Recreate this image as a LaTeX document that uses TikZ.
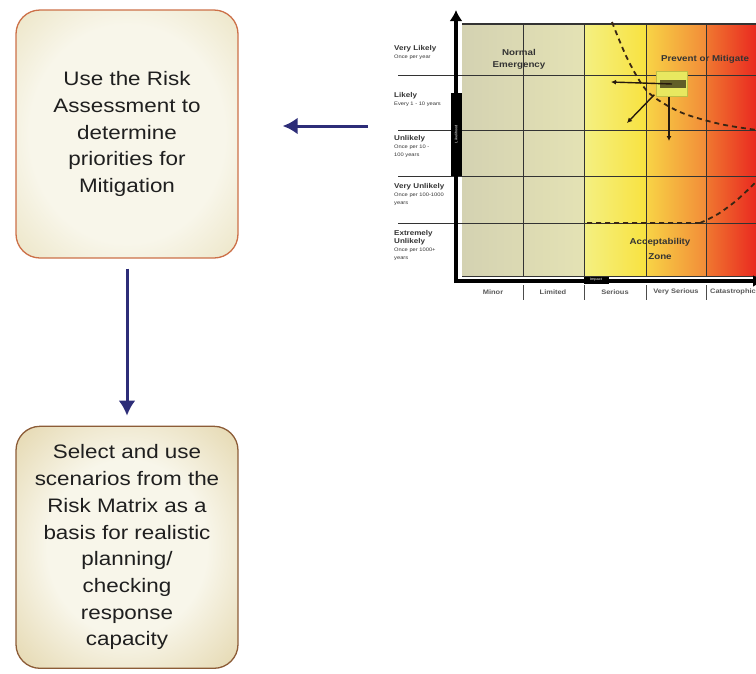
\documentclass[tikz,border=0pt]{standalone}
\usepackage{fontspec}
\setmainfont{Liberation Sans}[FakeStretch=1.15]
\usepackage{xcolor}
\usepackage{tikz}
\usetikzlibrary{arrows.meta,positioning,calc}
\definecolor{navy}{RGB}{45,45,120}
\definecolor{boxin}{RGB}{248,246,234}
\definecolor{boxmid}{RGB}{234,226,192}
\definecolor{boxout}{RGB}{220,200,156}
\definecolor{tanmid}{RGB}{230,218,180}
\definecolor{tanout}{RGB}{212,188,140}
\definecolor{edgeA}{RGB}{204,112,72}
\definecolor{edgeB}{RGB}{140,92,55}
\pgfdeclareradialshading{boxglow}{\pgfpoint{0bp}{0bp}}{color(0bp)=(boxin); color(22bp)=(boxin); color(38bp)=(boxmid); color(48bp)=(boxout); color(70bp)=(boxout)}
\pgfdeclareradialshading{tanglow}{\pgfpoint{0bp}{0bp}}{color(0bp)=(boxin); color(18bp)=(boxin); color(34bp)=(tanmid); color(47bp)=(tanout); color(70bp)=(tanout)}
\newcommand{\subl}[1]{{\fontsize{5}{6}\selectfont\mdseries #1}}

\begin{document}
\begin{tikzpicture}[>=Latex, x=1pt, y=-1pt,
  taskbox/.style={rounded corners=24pt, line width=1.3pt, minimum width=222pt,
    align=center, font=\fontsize{19.5}{26.7}\selectfont, text=black!88, shade},
  flow/.style={-{Latex[length=15pt,width=17pt]}, line width=3pt, navy},
  rowlab/.style={anchor=north west, align=left, inner sep=0pt,
    font=\fontsize{7}{8}\selectfont\bfseries, text=black!80},
  collab/.style={font=\fontsize{6.5}{7}\selectfont\bfseries, text=black!65},
  zonelab/.style={align=center, font=\fontsize{8.5}{12}\selectfont\bfseries, text=black!80},
  grid line/.style={black!80, line width=1pt},
  edge curve/.style={dashed, dash pattern=on 5pt off 4pt, line width=1.8pt, black!70!brown},
  evtarrow/.style={-{Latex[length=5pt,width=5pt]}, line width=1.4pt, black!80!brown}]
\useasboundingbox (0,0) rectangle (756,673);

% flow boxes
\node[taskbox, shading=boxglow, draw=edgeA, minimum height=248pt] (assess) at (127,134)
  {Use the Risk\\Assessment to\\determine\\priorities for\\Mitigation};
\node[taskbox, shading=tanglow, draw=edgeB, minimum height=242pt, below=167pt of assess] (scenario)
  {Select and use\\scenarios from the\\Risk Matrix as a\\basis for realistic\\planning/\\checking\\response\\capacity};

% risk matrix
\shade[left color={rgb,255:red,212;green,210;blue,178}, right color={rgb,255:red,228;green,226;blue,180}] (462,24) rectangle (584,276);
\shade[left color={rgb,255:red,244;green,240;blue,130}, right color={rgb,255:red,248;green,226;blue,64}] (584,24) rectangle (646,276);
\shade[left color={rgb,255:red,248;green,212;blue,70}, right color={rgb,255:red,242;green,140;blue,56}] (646,24) rectangle (706,276);
\shade[left color={rgb,255:red,240;green,120;blue,48}, right color={rgb,255:red,233;green,40;blue,32}] (706,24) rectangle (757,276);

\foreach \y in {75,130,176,223}
  \draw[grid line] (398,\y) -- (757,\y);
\foreach \x in {523,584,646,706}
  \draw[grid line] (\x,24) -- (\x,276);
\draw[black!80, line width=2pt] (462,24) -- (757,24);
\draw[grid line] (462,276) -- (757,276);

\draw[edge curve] plot[smooth] coordinates {(612,22) (628,60) (648,92) (680,112) (720,124) (757,130)};
\draw[edge curve] (587,223) -- (700,223) plot[smooth] coordinates {(700,223) (718,214) (737,200) (757,181)};

\node[fill={rgb,255:red,232;green,232;blue,96}, draw={rgb,255:red,190;green,190;blue,70},
  minimum width=31pt, minimum height=25pt, inner sep=0pt] (evt) at (672,84) {};
\fill[black!40!olive] (660,80) rectangle (686,88);
\coordinate (evtL) at (611,82);
\coordinate (evtD) at (627,123);
\coordinate (evtS) at (669,141);
\draw[evtarrow] (evt.center) -- (evtL);
\draw[evtarrow] (evt.south west) ++(-2,-2) -- (evtD);
\draw[evtarrow] (evt.south -| evtS) -- (evtS);

\node[zonelab] (normal) at (519,59) {Normal\\Emergency};
\node[zonelab] (prevent) at (705,59) {Prevent or Mitigate};
\node[zonelab] (accept) at (660,249) {Acceptability\\[3pt]Zone};

% likelihood rows
\node[rowlab] (vlik) at (394,45) {Very Likely\\\subl{Once per year}};
\node[rowlab] (lik) at (394,92) {Likely\\\subl{Every 1 - 10 years}};
\node[rowlab] (unl) at (394,135) {Unlikely\\\subl{Once per 10 -}\\\subl{100 years}};
\node[rowlab] (vunl) at (394,183) {Very Unlikely\\\subl{Once per 100-1000}\\\subl{years}};
\node[rowlab] (ext) at (394,230) {Extremely\\Unlikely\\\subl{Once per 1000+}\\\subl{years}};

% axes
\draw[line width=4pt, -{Latex[length=11pt,width=13pt]}] (456,283) -- (456,10);
\draw[line width=3.5pt, -{Latex[length=11pt,width=12pt]}] (454,281) -- (764,281);
\node[fill=black, text=white, minimum width=11pt, minimum height=83pt, inner sep=0pt] (likbar) at (456,134)
  {\rotatebox{90}{\fontsize{3.5}{4}\selectfont Likelihood}};
\node[fill=black, text=white, minimum width=25pt, minimum height=7pt, inner sep=0pt] (impbar) at (596,280)
  {\fontsize{3.5}{4}\selectfont Impact};
\foreach \x in {523,584,646,706}
  \draw[black!70, line width=0.8pt] (\x,285) -- (\x,300);
\foreach \x/\t in {493/Minor, 553/Limited, 615/Serious, 676/Very Serious, 733/Catastrophic}
  \node[collab] at (\x,292) {\t};

% connectors
\coordinate (mtx) at (368,126);
\draw[flow, shorten >=44pt] (mtx) -- (mtx -| assess.east);
\draw[flow, shorten <=10pt, shorten >=10pt] (assess) -- (scenario);
\end{tikzpicture}
\end{document}
